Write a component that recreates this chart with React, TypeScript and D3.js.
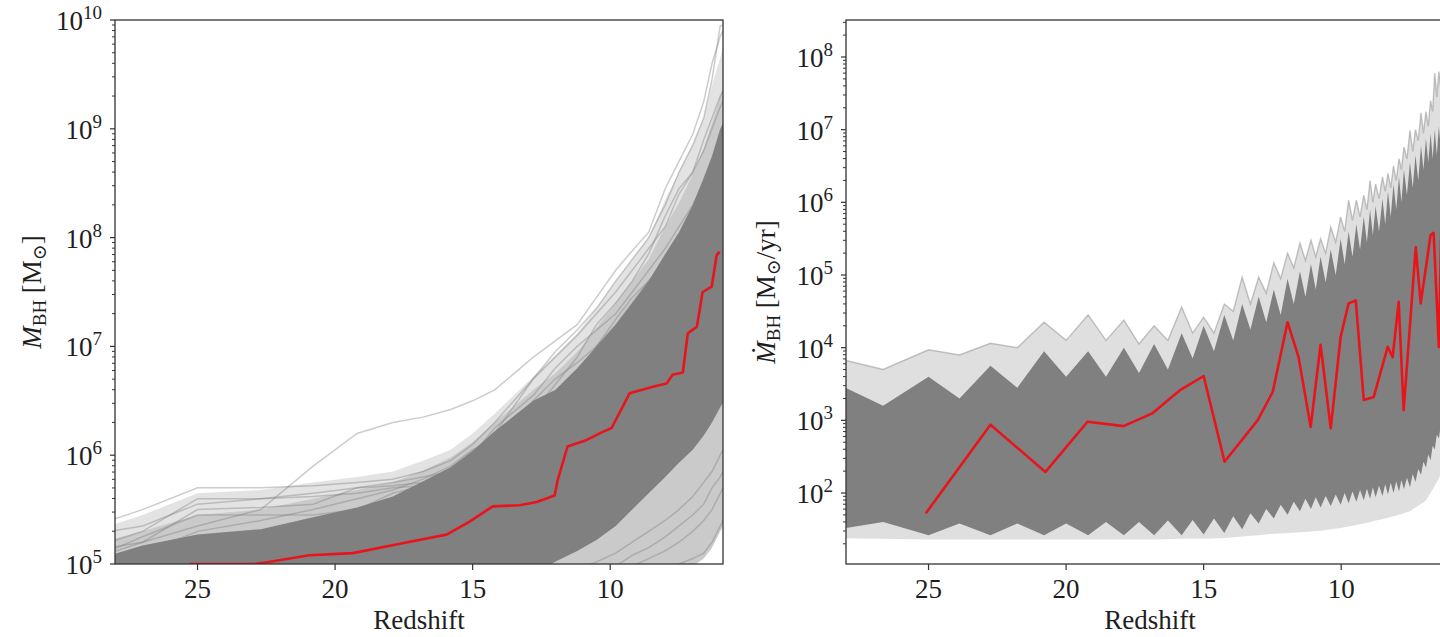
import React from "react";
import * as d3 from "d3";

// ---------------- data (log10 values) ----------------
const redshiftTicks = [25, 20, 15, 10];
const xDomain = [28.0, 5.9];
const massLogDomain = [5, 10];
const rateLogDomain = [1.023, 8.509];
const massDecadeTicks = [5, 6, 7, 8, 9, 10];
const rateDecadeTicks = [2, 3, 4, 5, 6, 7, 8];

// Left panel: black-hole mass
const massZ = [28.2, 27, 25, 22.7, 20.8, 19.2, 17.9, 16.8, 15.8, 15.0, 14.2, 13.5, 12.8, 12.0, 11.2, 10.5, 9.8, 9.2, 8.6, 8.0, 7.5, 7.0, 6.6, 6.3, 6.0, 5.9];
const massCoreHi = [5.08, 5.17, 5.27, 5.32, 5.43, 5.52, 5.62, 5.76, 5.89, 6.04, 6.22, 6.36, 6.5, 6.6, 6.8, 7.0, 7.2, 7.4, 7.6, 7.85, 8.05, 8.3, 8.55, 8.75, 9.0, 9.05];
const massCoreLo = [4.9, 4.9, 4.9, 4.9, 4.9, 4.9, 4.9, 4.9, 4.9, 4.9, 4.9, 4.9, 4.9, 5.02, 5.12, 5.22, 5.35, 5.5, 5.65, 5.8, 5.93, 6.05, 6.18, 6.3, 6.44, 6.48];
const massMidHi = [5.22, 5.3, 5.45, 5.5, 5.6, 5.68, 5.75, 5.86, 5.98, 6.12, 6.3, 6.45, 6.6, 6.75, 6.95, 7.17, 7.4, 7.6, 7.8, 8.1, 8.32, 8.58, 8.82, 9.05, 9.3, 9.38];
const massOuterHi = [5.35, 5.45, 5.65, 5.68, 5.75, 5.8, 5.85, 5.95, 6.05, 6.2, 6.38, 6.55, 6.72, 6.92, 7.12, 7.35, 7.6, 7.8, 8.0, 8.35, 8.6, 8.85, 9.1, 9.4, 9.65, 9.75];
const massOuterLo = [4.9, 4.9, 4.9, 4.9, 4.9, 4.9, 4.9, 4.9, 4.9, 4.9, 4.9, 4.9, 4.9, 4.9, 4.9, 4.9, 4.9, 4.9, 4.9, 4.9, 4.92, 4.98, 5.05, 5.15, 5.3, 5.35];

const massFringeU1 = [5.4, 5.5, 5.7, 5.7, 5.72, 5.75, 5.78, 5.85, 5.95, 6.1, 6.3, 6.5, 6.7, 6.9, 7.1, 7.3, 7.5, 7.7, 7.9, 8.1, 8.4, 8.6, 8.8, 9.0, 9.2, 9.25];
const massFringeU2 = [5.15, 5.2, 5.35, 5.5, 5.9, 6.2, 6.3, 6.35, 6.42, 6.5, 6.6, 6.75, 6.9, 7.05, 7.2, 7.45, 7.7, 7.88, 8.05, 8.45, 8.7, 8.95, 9.25, 9.6, 9.85, 9.9];
const massFringeU3 = [5.2, 5.3, 5.6, 5.6, 5.62, 5.65, 5.7, 5.72, 5.8, 5.9, 6.05, 6.2, 6.4, 6.65, 6.9, 7.2, 7.4, 7.6, 7.85, 8.2, 8.45, 8.6, 8.9, 9.1, 9.3, 9.35];
const massFringeU4 = [5.1, 5.2, 5.5, 5.52, 5.55, 5.7, 5.75, 5.8, 5.85, 6.0, 6.25, 6.4, 6.55, 6.8, 7.0, 7.15, 7.3, 7.5, 7.7, 7.9, 8.1, 8.3, 8.5, 8.7, 8.9, 8.95];
const massFringeU5 = [5.12, 5.25, 5.45, 5.45, 5.45, 5.5, 5.65, 5.72, 5.75, 5.85, 5.95, 6.1, 6.35, 6.5, 6.7, 7.0, 7.25, 7.45, 7.6, 7.75, 8.0, 8.25, 8.45, 8.6, 8.8, 8.85];
const massFringeU6 = [5.05, 5.1, 5.3, 5.4, 5.5, 5.6, 5.68, 5.78, 5.9, 6.05, 6.15, 6.3, 6.5, 6.7, 6.85, 7.0, 7.2, 7.4, 7.6, 7.8, 8.0, 8.2, 8.4, 8.55, 8.7, 8.75];
const massFringeU7 = [5.3, 5.35, 5.55, 5.6, 5.65, 5.7, 5.72, 5.75, 5.78, 5.82, 5.9, 6.0, 6.15, 6.3, 6.5, 6.75, 7.0, 7.25, 7.5, 7.7, 7.95, 8.15, 8.35, 8.5, 8.65, 8.7];
const massFringeU8 = [5.0, 5.05, 5.2, 5.3, 5.4, 5.5, 5.6, 5.7, 5.85, 6.0, 6.2, 6.45, 6.7, 6.95, 7.15, 7.35, 7.6, 7.8, 8.0, 8.3, 8.6, 8.85, 9.1, 9.45, 9.95, 9.95];
const massFringeL1 = [4.9, 4.9, 4.9, 4.9, 4.9, 4.9, 4.9, 4.9, 4.9, 4.9, 4.9, 4.9, 4.9, 4.9, 4.9, 4.9, 4.9, 4.98, 5.05, 5.12, 5.2, 5.3, 5.4, 5.5, 5.65, 5.7];
const massFringeL2 = [4.9, 4.9, 4.9, 4.9, 4.9, 4.9, 4.9, 4.9, 4.9, 4.9, 4.9, 4.9, 4.9, 4.9, 4.95, 5.02, 5.1, 5.2, 5.3, 5.4, 5.5, 5.62, 5.75, 5.85, 6.0, 6.05];
const massFringeL3 = [4.9, 4.9, 4.9, 4.9, 4.9, 4.9, 4.9, 4.9, 4.9, 4.9, 4.9, 4.9, 4.9, 4.9, 4.9, 4.9, 4.9, 4.9, 4.9, 4.95, 5.0, 5.05, 5.1, 5.2, 5.35, 5.4];
const massFringeL4 = [4.9, 4.9, 4.9, 4.9, 4.9, 4.9, 4.9, 4.9, 4.9, 4.9, 4.9, 4.9, 4.9, 4.9, 4.9, 4.9, 4.98, 5.08, 5.15, 5.25, 5.35, 5.45, 5.55, 5.7, 5.8, 5.85];
const massFringeLines = [massFringeU1, massFringeU2, massFringeU3, massFringeU4, massFringeU5, massFringeU6, massFringeU7, massFringeU8, massFringeL1, massFringeL2, massFringeL3, massFringeL4];

const massRedZ = [25.29, 22.93, 22.64, 20.93, 19.36, 17.55, 15.95, 15.11, 14.27, 13.29, 12.67, 12.02, 11.91, 11.55, 10.85, 10.31, 9.95, 9.29, 8.45, 7.95, 7.73, 7.36, 7.18, 6.85, 6.64, 6.31, 6.13, 6.02];
const massRedLog = [5.0, 5.0, 5.01, 5.08, 5.1, 5.19, 5.27, 5.39, 5.53, 5.54, 5.57, 5.63, 5.77, 6.08, 6.14, 6.21, 6.25, 6.57, 6.63, 6.66, 6.74, 6.76, 7.12, 7.18, 7.5, 7.55, 7.84, 7.87];

// Right panel: accretion rate (snapshots)
const rateZ = [28.3, 25.0, 22.75, 20.8, 19.2, 17.9, 16.8, 15.8, 15.0, 14.25, 13.6, 13.0, 12.45, 11.95, 11.5, 11.1, 10.75, 10.38, 10.02, 9.73, 9.45, 9.18, 8.95, 8.75, 8.5, 8.3, 8.1, 7.9, 7.72, 7.5, 7.3, 7.1, 6.92, 6.75, 6.6, 6.45, 6.3, 6.15, 6.0, 5.85];
const rateCoreTopPeak = [3.5, 3.6, 3.75, 3.95, 3.95, 4.0, 4.05, 4.2, 4.3, 4.45, 4.6, 4.7, 4.8, 4.95, 5.05, 5.15, 5.25, 5.35, 5.5, 5.6, 5.7, 5.8, 5.9, 5.95, 6.05, 6.15, 6.25, 6.35, 6.45, 6.55, 6.65, 6.78, 6.88, 6.95, 7.0, 7.05, 7.15, 7.25, 7.35, 7.45];
const rateCoreTopValley = [3.2, 3.3, 3.45, 3.6, 3.6, 3.65, 3.7, 3.85, 3.95, 4.1, 4.25, 4.35, 4.45, 4.6, 4.7, 4.8, 4.9, 5.0, 5.15, 5.25, 5.35, 5.45, 5.55, 5.6, 5.7, 5.8, 5.9, 6.0, 6.1, 6.2, 6.3, 6.45, 6.55, 6.6, 6.65, 6.72, 6.8, 6.9, 7.0];
const rateCoreBotPeak = [1.5, 1.42, 1.42, 1.42, 1.42, 1.42, 1.42, 1.42, 1.43, 1.45, 1.5, 1.58, 1.65, 1.7, 1.75, 1.78, 1.8, 1.82, 1.84, 1.86, 1.88, 1.9, 1.92, 1.94, 1.96, 1.98, 2.0, 2.02, 2.05, 2.08, 2.15, 2.25, 2.35, 2.45, 2.6, 2.75, 2.9, 3.0, 3.1, 3.2];
const rateCoreBotValley = [1.6, 1.58, 1.58, 1.58, 1.6, 1.6, 1.62, 1.63, 1.65, 1.68, 1.72, 1.78, 1.84, 1.88, 1.92, 1.94, 1.96, 1.98, 2.0, 2.02, 2.04, 2.06, 2.08, 2.1, 2.12, 2.14, 2.16, 2.18, 2.21, 2.26, 2.33, 2.43, 2.53, 2.65, 2.8, 2.95, 3.08, 3.18, 3.28];
const rateOuterTopPeak = [3.85, 3.97, 4.06, 4.35, 4.45, 4.38, 4.3, 4.56, 4.42, 4.6, 4.97, 4.97, 5.17, 5.3, 5.44, 5.48, 5.5, 5.66, 5.8, 6.03, 6.03, 6.1, 6.3, 6.25, 6.35, 6.4, 6.5, 6.6, 6.76, 6.99, 7.0, 7.23, 7.25, 7.4, 7.78, 7.8, 7.9, 8.0, 8.1, 8.2];
const rateOuterTopValley = [3.7, 3.9, 4.0, 4.1, 4.1, 4.05, 4.1, 4.2, 4.2, 4.5, 4.6, 4.75, 4.95, 5.1, 5.2, 5.25, 5.3, 5.45, 5.6, 5.75, 5.8, 5.9, 6.0, 6.05, 6.15, 6.2, 6.3, 6.45, 6.6, 6.7, 6.85, 6.95, 7.05, 7.25, 7.45, 7.55, 7.65, 7.8, 7.9];
const rateOuterBot = [1.38, 1.36, 1.36, 1.36, 1.36, 1.36, 1.36, 1.37, 1.37, 1.38, 1.4, 1.42, 1.44, 1.45, 1.46, 1.47, 1.48, 1.5, 1.52, 1.54, 1.56, 1.58, 1.6, 1.62, 1.64, 1.66, 1.68, 1.7, 1.72, 1.75, 1.8, 1.85, 1.9, 2.0, 2.1, 2.2, 2.35, 2.5, 2.65, 2.8];

const rateRedZ = [25.1, 22.75, 20.75, 19.22, 17.91, 16.85, 15.84, 15.0, 14.24, 13.04, 12.49, 11.95, 11.55, 11.11, 10.75, 10.38, 10.02, 9.73, 9.47, 9.18, 8.82, 8.31, 8.13, 7.91, 7.73, 7.29, 7.11, 6.75, 6.64, 6.45, 6.35];
const rateRedLog = [1.72, 2.94, 2.29, 2.98, 2.92, 3.1, 3.42, 3.61, 2.43, 3.0, 3.39, 4.35, 3.87, 2.91, 4.04, 2.89, 4.15, 4.61, 4.65, 3.28, 3.32, 4.01, 3.87, 4.63, 3.14, 5.38, 4.61, 5.55, 5.58, 4.01, 5.85];

// ---------------- layout ----------------
const W = 1440;
const H = 637;
const TOP = 20;
const BOTTOM = 564;
const PW = 608;
const FONT = "'Liberation Serif', 'DejaVu Serif', serif";
const GRAY = "#808080";
const INK = "#1e1e1e";

type Pt = [number, number];

function zigzag(z: number[], peaks: number[], valleys: number[]): Pt[] {
  const pts: Pt[] = [];
  for (let i = 0; i < z.length; i++) {
    pts.push([z[i], peaks[i]]);
    if (i < z.length - 1) pts.push([(z[i] + z[i + 1]) / 2, valleys[i]]);
  }
  return pts;
}
function pairs(z: number[], v: number[]): Pt[] {
  return z.map((d, i) => [d, v[i]] as Pt);
}

function Axes({ id, left, logDomain, decades, label, children }: any) {
  const x = d3.scaleLinear().domain(xDomain).range([left, left + PW]);
  const y = d3.scaleLog().domain([10 ** logDomain[0], 10 ** logDomain[1]]).range([BOTTOM, TOP]);
  const line = d3
    .line<Pt>()
    .x((d) => x(d[0]))
    .y((d) => y(10 ** d[1]));
  const poly = (top: Pt[], bot: Pt[]) => (line(top.concat(bot.slice().reverse())) || "") + "Z";
  const minor = y.ticks().filter((v) => {
    const l = Math.log10(v);
    return Math.abs(l - Math.round(l)) > 1e-6;
  });
  return (
    <g>
      <defs>
        <clipPath id={id}>
          <rect x={left} y={TOP} width={PW} height={BOTTOM - TOP} />
        </clipPath>
      </defs>
      <g clipPath={`url(#${id})`}>{children({ x, y, line, poly })}</g>
      <rect x={left} y={TOP} width={PW} height={BOTTOM - TOP} fill="none" stroke="#333" strokeWidth={1.3} />
      {minor.map((v, i) => (
        <line key={"m" + i} x1={left - 3} x2={left} y1={y(v)} y2={y(v)} stroke="#333" strokeWidth={1} />
      ))}
      {decades.map((d: number) => (
        <g key={"d" + d}>
          <line x1={left - 5} x2={left} y1={y(10 ** d)} y2={y(10 ** d)} stroke="#333" strokeWidth={1.2} />
          <text x={left - 13} y={y(10 ** d) + 10} textAnchor="end" fontSize={27} fontFamily={FONT} fill={INK}>
            10<tspan dy={-11} fontSize={19}>{d}</tspan>
          </text>
        </g>
      ))}
      {redshiftTicks.map((t) => (
        <g key={"x" + t}>
          <line x1={x(t)} x2={x(t)} y1={BOTTOM} y2={BOTTOM + 6} stroke="#333" strokeWidth={1.2} />
          <text x={x(t)} y={BOTTOM + 34} textAnchor="middle" fontSize={27} fontFamily={FONT} fill={INK}>
            {t}
          </text>
        </g>
      ))}
      <text x={left + PW / 2} y={629} textAnchor="middle" fontSize={27} fontFamily={FONT} fill={INK}>
        Redshift
      </text>
      {label}
    </g>
  );
}

export default function App() {
  const massCoreTop = pairs(massZ, massCoreHi);
  const massCoreBot = pairs(massZ, massCoreLo);
  const massMidTop = pairs(massZ, massMidHi);
  const massOuterTop = pairs(massZ, massOuterHi);
  const massOuterBot = pairs(massZ, massOuterLo);

  const rateCoreTop = zigzag(rateZ, rateCoreTopPeak, rateCoreTopValley);
  const rateCoreBot = zigzag(rateZ, rateCoreBotPeak, rateCoreBotValley);
  const rateOuterTop = zigzag(rateZ, rateOuterTopPeak, rateOuterTopValley);
  const rateOuterBottom = pairs(rateZ, rateOuterBot);

  return (
    <svg width={W} height={H} style={{ position: "absolute", left: 0, top: 0, background: "#fff" }}>
      <rect x={0} y={0} width={W} height={H} fill="#fff" />
      <Axes
        id="clipMass"
        left={115}
        logDomain={massLogDomain}
        decades={massDecadeTicks}
        label={
          <text transform="translate(41,292) rotate(-90)" textAnchor="middle" fontSize={27} fontFamily={FONT} fill={INK}>
            <tspan fontStyle="italic">M</tspan>
            <tspan fontSize={19} dy={5}>BH</tspan>
            <tspan dy={-5}> [M</tspan>
            <tspan fontSize={19} dy={5}>⊙</tspan>
            <tspan dy={-5}>]</tspan>
          </text>
        }
      >
        {({ line, poly }: any) => (
          <g>
            <path d={poly(massOuterTop, massOuterBot)} fill={GRAY} fillOpacity={0.22} />
            <path d={poly(massMidTop, massOuterBot)} fill={GRAY} fillOpacity={0.25} />
            {massFringeLines.map((vals, i) => (
              <path key={i} d={line(pairs(massZ, vals))} fill="none" stroke={GRAY} strokeOpacity={0.4} strokeWidth={1.5} />
            ))}
            <path d={poly(massCoreTop, massCoreBot)} fill={GRAY} />
            <path d={line(pairs(massRedZ, massRedLog))} fill="none" stroke="#e8141c" strokeWidth={2.6} strokeLinejoin="round" />
          </g>
        )}
      </Axes>
      <Axes
        id="clipRate"
        left={846}
        logDomain={rateLogDomain}
        decades={rateDecadeTicks}
        label={
          <text transform="translate(775,292) rotate(-90)" textAnchor="middle" fontSize={27} fontFamily={FONT} fill={INK}>
            <tspan fontStyle="italic">Ṁ</tspan>
            <tspan fontSize={19} dy={5}>BH</tspan>
            <tspan dy={-5}> [M</tspan>
            <tspan fontSize={19} dy={5}>⊙</tspan>
            <tspan dy={-5}>/yr]</tspan>
          </text>
        }
      >
        {({ line, poly }: any) => (
          <g>
            <path d={poly(rateOuterTop, rateOuterBottom)} fill={GRAY} fillOpacity={0.25} />
            <path d={line(rateOuterTop)} fill="none" stroke={GRAY} strokeOpacity={0.45} strokeWidth={1.4} />
            <path d={poly(rateCoreTop, rateCoreBot)} fill={GRAY} />
            <path d={line(pairs(rateRedZ, rateRedLog))} fill="none" stroke="#e8141c" strokeWidth={2.6} strokeLinejoin="round" />
          </g>
        )}
      </Axes>
    </svg>
  );
}
